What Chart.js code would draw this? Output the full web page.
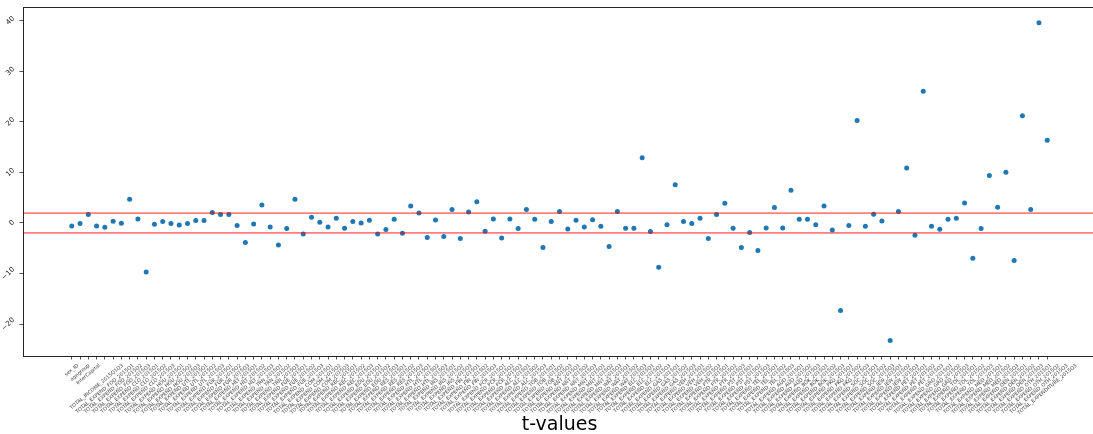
<!DOCTYPE html>
<html><head><meta charset="utf-8">
<script src="https://cdn.jsdelivr.net/npm/chart.js@4/dist/chart.umd.min.js"></script>
<style>
html,body{margin:0;padding:0;background:#fff;overflow:hidden;width:1093px;height:434px}
#wrap{width:1100px;height:434px}
</style></head>
<body><div id="wrap"><canvas id="c" width="1100" height="434"></canvas></div>
<script>
// ---- data ----
const leadLabels = ['sex_ID', 'agegroup', 'InterCapital', 'TOTAL_INCOME_2015Q1Q3'];
const expenditureCodes = ['FOD','CLO','HOU','UTL','FUR','HLT','TRN','FUE','COM','REC','EDU','RES','HTL',
  'INS','FIN','PCR','ALC','TOB','RNT','MNT','WAT','ELC','GAS','VEH','PTR','PST','TEL','AUD','BOK','PKG',
  'SOC','JEW','PET','GRD','TOL','MED','DEN','OTH'];
const quarters = ['2015Q1', '2015Q2', '2015Q3'];
const tailLabels = ['TOTAL_EXPENDITURE_2015Q3'];
const xLabels = leadLabels
  .concat(...expenditureCodes.map(c => quarters.map(q => 'TOTAL_EXPEND_' + c + '_' + q)))
  .concat(tailLabels);

const tValues = [
  -0.59, -0.12, 1.66, -0.59, -0.85, 0.34, -0.06, 4.68, 0.80, -9.68,
  -0.26, 0.27, -0.12, -0.39, -0.12, 0.47, 0.47, 2.05, 1.66, 1.66,
  -0.52, -3.88, -0.19, 3.56, -0.79, -4.34, -1.11, 4.68, -2.17, 1.13,
  0.14, -0.79, 0.93, -1.05, 0.27, 0.00, 0.53, -2.17, -1.30, 0.73,
  -2.04, 3.36, 1.98, -2.89, 0.60, -2.69, 2.64, -3.09, 2.18, 4.22,
  -1.64, 0.80, -2.96, 0.80, -1.11, 2.64, 0.73, -4.87, 0.27, 2.25,
  -1.18, 0.53, -0.79, 0.66, -0.66, -4.67, 2.25, -1.05, -1.05, 12.92,
  -1.71, -8.75, -0.33, 7.58, 0.27, -0.12, 0.93, -3.09, 1.66, 3.89,
  -1.05, -4.87, -1.88, -5.46, -0.99, 3.04, -0.99, 6.46, 0.73, 0.73,
  -0.33, 3.36, -1.38, -17.30, -0.52, 20.24, -0.65, 1.72, 0.40, -23.24,
  2.25, 10.87, -2.43, 26.03, -0.65, -1.25, 0.73, 0.93, 3.95, -6.98,
  -1.11, 9.37, 3.10, 10.02, -7.43, 21.22, 2.64, 39.60, 16.34
];
const thresholds = [1.96, -1.96];
const yTicks = [-20, -10, 0, 10, 20, 30, 40];
const titleText = 't-values';

// axis limits
const X_MIN = -5.9, X_MAX = 123.9;
const Y_MIN = -26.3, Y_MAX = 42.7;

const drawPlugin = {
  id: 'mplText',
  afterDraw(chart) {
    const ctx = chart.ctx, xs = chart.scales.x, ys = chart.scales.y, a = chart.chartArea;
    ctx.save();
    // frame
    ctx.strokeStyle = '#262626';
    ctx.lineWidth = 1;
    ctx.strokeRect(Math.round(a.left) + 0.5, Math.round(a.top) + 0.5, a.right - a.left, a.bottom - a.top);

    // x tick labels (rotated, centred under tick)
    const fx = 5;
    ctx.font = fx + 'px "DejaVu Sans"';
    ctx.fillStyle = '#444';
    const th = 40 * Math.PI / 180;
    xLabels.forEach((t, i) => {
      const px = xs.getPixelForValue(i);
      const L = ctx.measureText(t).width;
      const bh = L * Math.sin(th) + fx * Math.cos(th);
      ctx.save();
      ctx.translate(px, a.bottom + 7 + bh / 2);
      ctx.rotate(-th);
      ctx.textAlign = 'center';
      ctx.textBaseline = 'middle';
      ctx.fillText(t, 0, 0);
      ctx.restore();
    });

    // y tick labels (rotated 45)
    const fy = 7;
    ctx.font = fy + 'px "DejaVu Sans"';
    ctx.fillStyle = '#222';
    const t2 = Math.PI / 4;
    yTicks.forEach(v => {
      const py = ys.getPixelForValue(v);
      const s = v < 0 ? '\u2212' + Math.abs(v) : String(v);
      const L = ctx.measureText(s).width;
      const bw = (L + fy) * Math.cos(t2);
      ctx.save();
      ctx.translate(a.left - 7 - bw / 2, py);
      ctx.rotate(-t2);
      ctx.textAlign = 'center';
      ctx.textBaseline = 'middle';
      ctx.fillText(s, 0, 0);
      ctx.restore();
    });

    // axis title
    ctx.font = '19px "DejaVu Sans"';
    ctx.fillStyle = '#000';
    ctx.textAlign = 'center';
    ctx.textBaseline = 'middle';
    ctx.fillText(titleText, (a.left + a.right) / 2, 425);
    ctx.restore();
  }
};

new Chart(document.getElementById('c'), {
  type: 'scatter',
  data: {
    datasets: [
      {
        data: tValues.map((v, i) => ({ x: i, y: v })),
        backgroundColor: '#1f77b4',
        borderWidth: 0,
        pointRadius: 2.5,
        order: 2
      },
      ...thresholds.map(t => ({
        type: 'line',
        data: [{ x: X_MIN, y: t }, { x: X_MAX, y: t }],
        borderColor: 'rgba(255,0,0,0.5)',
        borderWidth: 1.8,
        pointRadius: 0,
        fill: false,
        order: 1
      }))
    ]
  },
  options: {
    responsive: false,
    animation: false,
    devicePixelRatio: 1,
    layout: { padding: { top: 7, right: 3, left: 0, bottom: 0 } },
    plugins: { legend: { display: false }, tooltip: { enabled: false } },
    scales: {
      x: {
        type: 'linear',
        min: X_MIN, max: X_MAX,
        afterBuildTicks: s => { s.ticks = xLabels.map((_, i) => ({ value: i })); },
        afterFit: s => { s.height = 78; },
        ticks: { display: false },
        border: { display: false },
        grid: { display: true, drawOnChartArea: false, drawTicks: true, tickLength: 3.5, color: '#222', lineWidth: 0.8 }
      },
      y: {
        type: 'linear',
        min: Y_MIN, max: Y_MAX,
        afterBuildTicks: s => { s.ticks = yTicks.map(v => ({ value: v })); },
        afterFit: s => { s.width = 23; },
        ticks: { display: false },
        border: { display: false },
        grid: { display: true, drawOnChartArea: false, drawTicks: true, tickLength: 3.5, color: '#222', lineWidth: 0.8 }
      }
    }
  },
  plugins: [drawPlugin]
});
</script>
</body></html>
